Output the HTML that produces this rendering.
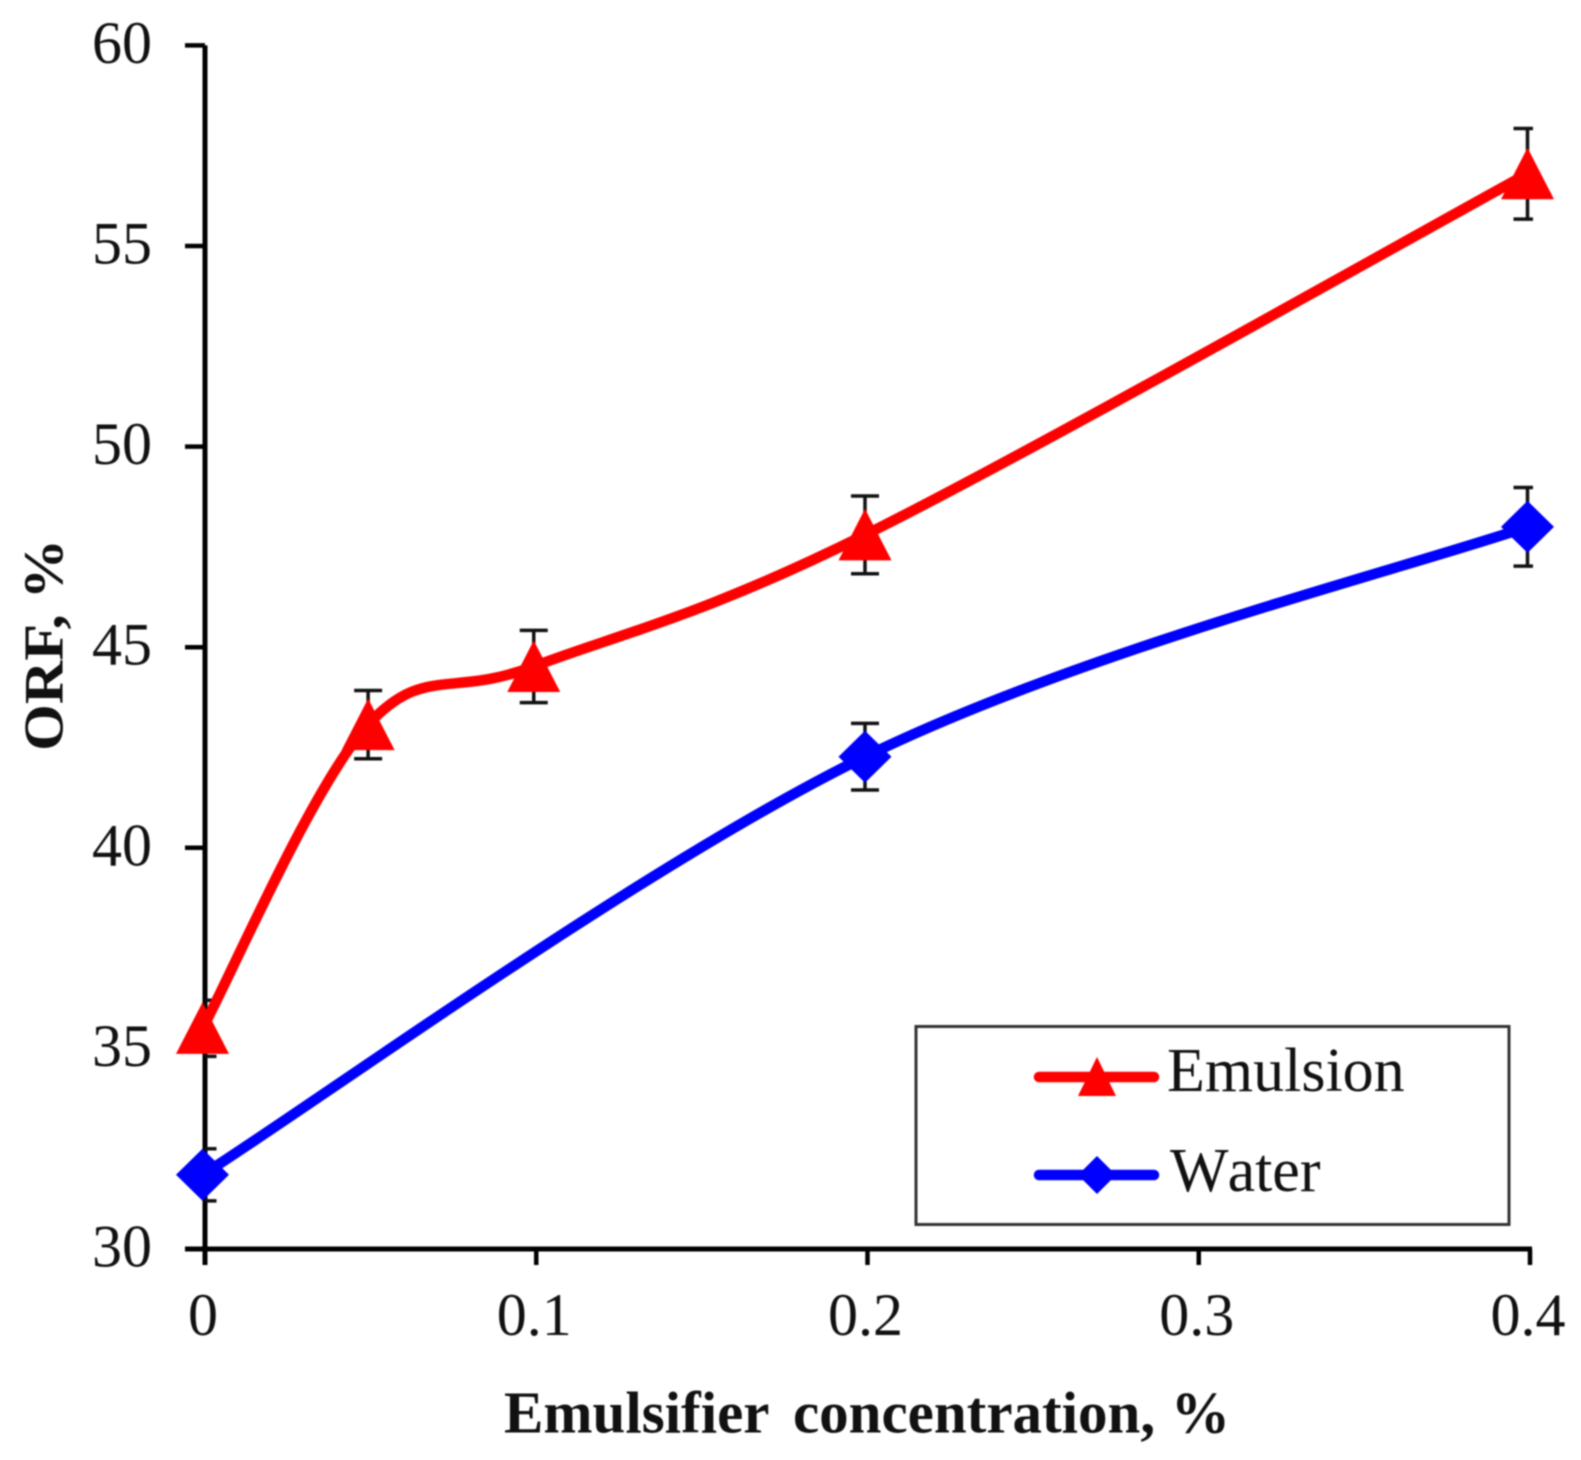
<!DOCTYPE html>
<html>
<head>
<meta charset="utf-8">
<title>ORF vs emulsifier concentration</title>
<style>
html,body{margin:0;padding:0;background:#fff;}
svg{display:block;filter:blur(0.9px);}
text{font-family:"Liberation Serif","Times New Roman",serif;fill:#111;}
</style>
</head>
<body>
<svg id="chart" width="1581" height="1460" viewBox="0 0 1581 1460" xmlns="http://www.w3.org/2000/svg">
  <defs>
    <clipPath id="plot-clip"><rect x="205" y="0" width="1328" height="1460"/></clipPath>
  </defs>
  <g id="axes"></g>
  <g id="errors" clip-path="url(#plot-clip)"></g>
  <g id="series"></g>

  <text x="62.5" y="645" transform="rotate(-90 62.5 645)" text-anchor="middle" font-size="56" font-weight="bold" textLength="212" lengthAdjust="spacingAndGlyphs">ORF, %</text>
  <text y="1432.5" font-size="59" font-weight="bold"><tspan x="504">Emulsifier </tspan><tspan x="793">concentration, </tspan><tspan x="1171">%</tspan></text>

  <g>
    <rect x="916" y="1026.5" width="593" height="198" fill="#fff" stroke="#333" stroke-width="3"/>
    <g>
      <line x1="1039" y1="1077" x2="1154" y2="1077" stroke="#ff0000" stroke-width="10.5" stroke-linecap="round"/>
      <polygon points="1097,1057 1116,1096 1078,1096" fill="#ff0000"/>
      <text x="1167" y="1091" font-size="62">Emulsion</text>
    </g>
    <g>
      <line x1="1039" y1="1175" x2="1154" y2="1175" stroke="#0000ff" stroke-width="10.5" stroke-linecap="round"/>
      <polygon points="1097,1156 1116,1175 1097,1194 1078,1175" fill="#0000ff"/>
      <text x="1170" y="1191" font-size="62">W<tspan dx="4">ater</tspan></text>
    </g>
  </g>
</svg>
<script>
var xTicks = [0, 0.1, 0.2, 0.3, 0.4];
var xTickLabels = ['0', '0.1', '0.2', '0.3', '0.4'];
var yTicks = [30, 35, 40, 45, 50, 55, 60];
var yTickLabels = ['30', '35', '40', '45', '50', '55', '60'];
var emulsionX = [0, 0.05, 0.1, 0.2, 0.4];
var emulsionY = [35.5, 43.07, 44.52, 47.8, 56.8];
var emulsionErr = [0.7, 0.85, 0.9, 0.97, 1.13];
var waterX = [0, 0.2, 0.4];
var waterY = [31.85, 42.27, 48.0];
var waterErr = [0.65, 0.83, 0.98];

var NS = 'http://www.w3.org/2000/svg';
function xAxis(v) { return 205 + (v / 0.4) * 1325; }
function yAxis(v) { return 1249 - ((v - 30) / 30) * 1203.6; }
function markX(v) { return xAxis(v) - 2.5; }

function make(tag, attrs, parent) {
  var el = document.createElementNS(NS, tag);
  for (var k in attrs) { el.setAttribute(k, attrs[k]); }
  parent.appendChild(el);
  return el;
}

function smoothPath(xs, ys) {
  var pts = xs.map(function (x, i) { return [markX(x), yAxis(ys[i])]; });
  var d = 'M' + pts[0][0] + ' ' + pts[0][1];
  for (var i = 0; i < pts.length - 1; i++) {
    var p0 = pts[Math.max(i - 1, 0)], p1 = pts[i], p2 = pts[i + 1], p3 = pts[Math.min(i + 2, pts.length - 1)];
    var c1x = p1[0] + (p2[0] - p0[0]) / 6, c1y = p1[1] + (p2[1] - p0[1]) / 6;
    var c2x = p2[0] - (p3[0] - p1[0]) / 6, c2y = p2[1] - (p3[1] - p1[1]) / 6;
    d += ' C' + c1x + ' ' + c1y + ' ' + c2x + ' ' + c2y + ' ' + p2[0] + ' ' + p2[1];
  }
  return d;
}

var axes = document.getElementById('axes');
var errors = document.getElementById('errors');
var seriesG = document.getElementById('series');

var yLine = make('line', {x1: 205, y1: yAxis(60), x2: 205, y2: 1265, stroke: '#000', 'stroke-width': 5}, axes);


var xLine = make('line', {x1: 185, y1: yAxis(30), x2: xAxis(0.4) + 2, y2: yAxis(30), stroke: '#000', 'stroke-width': 5}, axes);



yTicks.forEach(function (t, i) {
  var tick = make('line', {x1: 185, y1: yAxis(t), x2: 205, y2: yAxis(t), stroke: '#000', 'stroke-width': 4.5}, axes);
  
  
  var label = make('text', {x: 152, y: yAxis(t) + 17.5, 'text-anchor': 'end', 'font-size': 60}, axes);
  label.textContent = yTickLabels[i];
  
  
});

xTicks.forEach(function (t, i) {
  var tick = make('line', {x1: xAxis(t), y1: yAxis(30), x2: xAxis(t), y2: 1265, stroke: '#000', 'stroke-width': 4.5}, axes);
  
  
  var label = make('text', {x: xAxis(t) - 2, y: 1335, 'text-anchor': 'middle', 'font-size': 60}, axes);
  label.textContent = xTickLabels[i];
  
  
});

function drawErrors(xs, ys, es) {
  xs.forEach(function (x, i) {
    var px = markX(x), top = yAxis(ys[i] + es[i]), bot = yAxis(ys[i] - es[i]);
    var bar = make('path', {
      d: 'M' + px + ' ' + top + ' V' + bot + ' M' + (px - 14) + ' ' + top + ' H' + (px + 14) + ' M' + (px - 14) + ' ' + bot + ' H' + (px + 14),
      fill: 'none', stroke: '#111', 'stroke-width': 3.5
    }, errors);
    
    
  });
}
drawErrors(emulsionX, emulsionY, emulsionErr);
drawErrors(waterX, waterY, waterErr);

var redLine = make('path', {d: smoothPath(emulsionX, emulsionY), fill: 'none', stroke: '#ff0000', 'stroke-width': 10.5, 'stroke-linejoin': 'round'}, seriesG);


var blueLine = make('path', {d: smoothPath(waterX, waterY), fill: 'none', stroke: '#0000ff', 'stroke-width': 10.5, 'stroke-linejoin': 'round'}, seriesG);



emulsionX.forEach(function (x, i) {
  var cx = markX(x), cy = yAxis(emulsionY[i]);
  var tri = make('polygon', {points: cx + ',' + (cy - 26) + ' ' + (cx + 26.5) + ',' + (cy + 25.5) + ' ' + (cx - 26.5) + ',' + (cy + 25.5), fill: '#ff0000'}, seriesG);
  
  
});
waterX.forEach(function (x, i) {
  var cx = markX(x), cy = yAxis(waterY[i]);
  var dia = make('polygon', {points: cx + ',' + (cy - 26) + ' ' + (cx + 26.5) + ',' + cy + ' ' + cx + ',' + (cy + 26) + ' ' + (cx - 26.5) + ',' + cy, fill: '#0000ff'}, seriesG);
  
  
});
</script>
</body>
</html>
